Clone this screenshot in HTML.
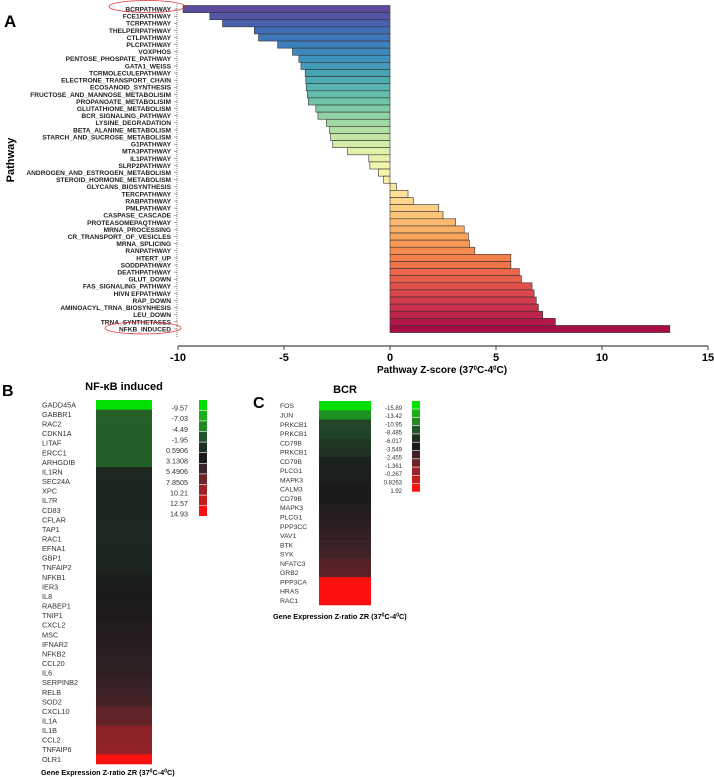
<!DOCTYPE html>
<html><head><meta charset="utf-8"><style>
body{margin:0;background:#fff;}
svg{display:block;font-family:"Liberation Sans",Arial,sans-serif;}
</style></head><body>
<svg id="fig" width="714" height="777" viewBox="0 0 714 777">
<g id="pa"></g>
<g id="pb"></g>
<g id="pc"></g>
</svg>
<script>
const pathways=["BCRPATHWAY","FCE1PATHWAY","TCRPATHWAY","THELPERPATHWAY","CTLPATHWAY","PLCPATHWAY","VOXPHOS","PENTOSE_PHOSPATE_PATHWAY","GATA1_WEISS","TCRMOLECULEPATHWAY","ELECTRONE_TRANSPORT_CHAIN","ECOSANOID_SYNTHESIS","FRUCTOSE_AND_MANNOSE_METABOLISIM","PROPANOATE_METABOLISIM","GLUTATHIONE_METABOLISM","BCR_SIGNALING_PATHWAY","LYSINE_DEGRADATION","BETA_ALANINE_METABOLISM","STARCH_AND_SUCROSE_METABOLISM","G1PATHWAY","MTA3PATHWAY","IL1PATHWAY","SLRP2PATHWAY","ANDROGEN_AND_ESTROGEN_METABOLISM","STEROID_HORMONE_METABOLISM","GLYCANS_BIOSYNTHESIS","TERCPATHWAY","RABPATHWAY","PMLPATHWAY","CASPASE_CASCADE","PROTEASOMEPAQTHWAY","MRNA_PROCESSING","CR_TRANSPORT_OF_VESICLES","MRNA_SPLICING","RANPATHWAY","HTERT_UP","SODDPATHWAY","DEATHPATHWAY","GLUT_DOWN","FAS_SIGNALING_PATHWAY","HIVN EFPATHWAY","RAP_DOWN","AMINOACYL_TRNA_BIOSYNHESIS","LEU_DOWN","TRNA_SYNTHETASES","NFKB_INDUCED"];
const zscores=[-9.76,-8.5,-7.9,-6.4,-6.2,-5.3,-4.6,-4.3,-4.2,-4.0,-3.97,-3.95,-3.9,-3.85,-3.5,-3.4,-3.0,-2.85,-2.8,-2.7,-2.0,-1.0,-0.95,-0.55,-0.3,0.3,0.85,1.1,2.3,2.5,3.1,3.5,3.7,3.75,4.0,5.7,5.7,6.1,6.2,6.7,6.8,6.9,7.0,7.2,7.8,13.2];
const xTicks=[-10,-5,0,5,10,15];
const genesB=["GADD45A","GABBR1","RAC2","CDKN1A","LITAF","ERCC1","ARHGDIB","IL1RN","SEC24A","XPC","IL7R","CD83","CFLAR","TAP1","RAC1","EFNA1","GBP1","TNFAIP2","NFKB1","IER3","IL8","RABEP1","TNIP1","CXCL2","MSC","IFNAR2","NFKB2","CCL20","IL6","SERPINB2","RELB","SOD2","CXCL10","IL1A","IL1B","CCL2","TNFAIP6","OLR1"];
const valuesB=[-9.57,-2.6,-2.6,-2.6,-2.6,-2.6,-2.6,1.6,1.6,1.6,1.6,1.6,1.6,1.6,1.6,1.6,1.6,1.9,2.6,2.9,3.1,3.3,3.5,3.7,3.9,4.1,4.3,4.5,4.7,5.1,5.5,6.0,7.3,7.5,9.6,9.6,9.8,14.93];
const legendB=["-9.57","-7.03","-4.49","-1.95","0.5906","3.1308","5.4906","7.8505","10.21","12.57","14.93"];
const genesC=["FOS","JUN","PRKCB1","PRKCB1","CD79B","PRKCB1","CD79B","PLCG1","MAPK3","CALM3","CD79B","MAPK3","PLCG1","PPP3CC","VAV1","BTK","SYK","NFATC3","GRB2","PPP3CA","HRAS","RAC1"];
const valuesC=[-15.89,-11.5,-7.6,-7.4,-6.6,-6.2,-4.3,-4.2,-4.0,-3.8,-3.5,-3.3,-3.1,-2.9,-2.7,-2.5,-2.3,-1.8,-1.7,1.92,1.92,1.92];
const legendC=["-15.89","-13.42","-10.95","-8.485","-6.017","-3.549","-2.455","-1.361","-0.267","0.8263","1.92"];

const NS="http://www.w3.org/2000/svg";
function mk(p,t,a,txt){const e=document.createElementNS(NS,t);for(const k in a)e.setAttribute(k,a[k]);if(txt!==undefined)e.textContent=txt;p.appendChild(e);return e;}
const legCols=["#00e000","#18b018","#1f8a22","#24522a","#1e3022","#1a1a1a","#3a2226","#6a2428","#9a2226","#c81c1c","#ff1010"];
function hex(c){return [1,3,5].map(i=>parseInt(c.substr(i,2),16));}
function interp(cols,t){t=Math.max(0,Math.min(1,t));const f=t*(cols.length-1);const i=Math.min(cols.length-2,Math.floor(f));const r=f-i;const a=hex(cols[i]),b=hex(cols[i+1]);return "rgb("+a.map((v,k)=>Math.round(v+(b[k]-v)*r)).join(",")+")";}
function colorFor(v,leg){const nums=leg.map(Number);for(let i=0;i<nums.length-1;i++){if(v<=nums[i+1]){const r=(v-nums[i])/(nums[i+1]-nums[i]);return interp([legCols[i],legCols[i+1]],r);}}return legCols[legCols.length-1];}

// Panel A
const pa=document.getElementById('pa');
const xs=v=>390+(v-0)*21.2;
const rowH=7.11, top0=5.5;
const barPal=["#5a4b9e","#3f6fb6","#3b8cc0","#4aaab2","#6cc4aa","#a2d9a2","#d9eea6","#f6f6b0","#fde49a","#fcc57a","#f9a35c","#f47a48","#e5554a","#cf3350","#a80c44"];
mk(pa,'text',{x:4,y:27,'font-size':17,'font-weight':'bold',},'A');
const yl=mk(pa,'text',{x:0,y:0,'font-size':11,'font-weight':'bold','text-anchor':'middle',transform:'translate(14,160) rotate(-90)'},'Pathway');


mk(pa,'line',{x1:177,y1:4,x2:177,y2:337,stroke:'#555','stroke-width':0.8,'stroke-dasharray':'1,1',});
pathways.forEach((p,i)=>{
  const y=top0+i*rowH, v=zscores[i];
  const x0=Math.min(xs(0),xs(v)), w=Math.abs(xs(v)-xs(0));
  const r=mk(pa,'rect',{x:x0,y:y,width:w,height:rowH,fill:interp(barPal,i/(pathways.length-1)),stroke:'#333','stroke-width':0.6});
  
  
  const t=mk(pa,'text',{x:171,y:y+rowH/2+2.4,'font-size':6.6,'font-weight':'bold','text-anchor':'end',fill:'#222'},p);
  
  
  mk(pa,'line',{x1:174,y1:y+rowH/2,x2:177,y2:y+rowH/2,stroke:'#555','stroke-width':0.5});
});
mk(pa,'ellipse',{cx:147,cy:6.5,rx:38,ry:6,fill:'none',stroke:'#d33','stroke-width':0.8,});
mk(pa,'ellipse',{cx:143,cy:328,rx:38,ry:6,fill:'none',stroke:'#d33','stroke-width':0.8,});
mk(pa,'line',{x1:xs(-10),y1:346,x2:xs(15),y2:346,stroke:'#444','stroke-width':1.2,});
xTicks.forEach(v=>{
  mk(pa,'line',{x1:xs(v),y1:346,x2:xs(v),y2:350,stroke:'#444','stroke-width':1});
  const t=mk(pa,'text',{x:xs(v),y:361,'font-size':11,'font-weight':'bold','text-anchor':'middle'},String(v));
  
  
});
const xt=mk(pa,'text',{x:442,y:373,'font-size':10,'font-weight':'bold','text-anchor':'middle'});


xt.innerHTML='Pathway Z-score (37<tspan dy="-3" font-size="6">0</tspan><tspan dy="3">C-4</tspan><tspan dy="-3" font-size="6">0</tspan><tspan dy="3">C)</tspan>';

function heat(g,o){
  mk(g,'text',{x:o.lx,y:o.ly,'font-size':16,'font-weight':'bold'},o.letter);
  const tt=mk(g,'text',{x:o.tx,y:o.ty,'font-size':o.tfs,'font-weight':'bold','text-anchor':'middle'},o.title);
  
  
  const rh=(o.y1-o.y0)/o.genes.length;
  o.genes.forEach((gn,i)=>{
    const r=mk(g,'rect',{x:o.hx,y:o.y0+i*rh,width:o.hw,height:rh+0.3,fill:colorFor(o.vals[i],o.leg)});
    
    
    const t=mk(g,'text',{x:o.gx,y:o.y0+i*rh+rh/2+2.6,'font-size':o.gfs,fill:'#333'},gn);
    
    
  });
  const bh=o.bh;
  o.leg.forEach((s,i)=>{
    const r=mk(g,'rect',{x:o.bx,y:o.y0+i*bh,width:8,height:bh-0.6,fill:legCols[i]});
    
    
    const t=mk(g,'text',{x:o.btx,y:o.y0+i*bh+bh/2+o.lfs*0.6+1,'font-size':o.lfs,'text-anchor':'end',fill:'#333'},s);
    
    
  });
  const c=mk(g,'text',{x:o.cx,y:o.cy,'font-size':7.3,'font-weight':'bold'});
  
  
  c.innerHTML='Gene Expression Z-ratio ZR (37<tspan dy="-2.5" font-size="5">0</tspan><tspan dy="2.5">C-4</tspan><tspan dy="-2.5" font-size="5">0</tspan><tspan dy="2.5">C)</tspan>';
}
heat(document.getElementById('pb'),{letter:'B',lx:2,ly:396,title:'NF-κB induced',tx:124,ty:390,tfs:11,genes:genesB,vals:valuesB,leg:legendB,hx:96,hw:56,y0:400,y1:764,gx:42,gfs:7.3,bx:199,bh:10.6,btx:188,lfs:7.2,cx:41,cy:775});
heat(document.getElementById('pc'),{letter:'C',lx:253,ly:408,title:'BCR',tx:345,ty:393,tfs:11,genes:genesC,vals:valuesC,leg:legendC,hx:319,hw:52,y0:401,y1:605,gx:280,gfs:6.8,bx:412,bh:8.3,btx:402,lfs:6,cx:273,cy:619});
</script>
</body></html>
